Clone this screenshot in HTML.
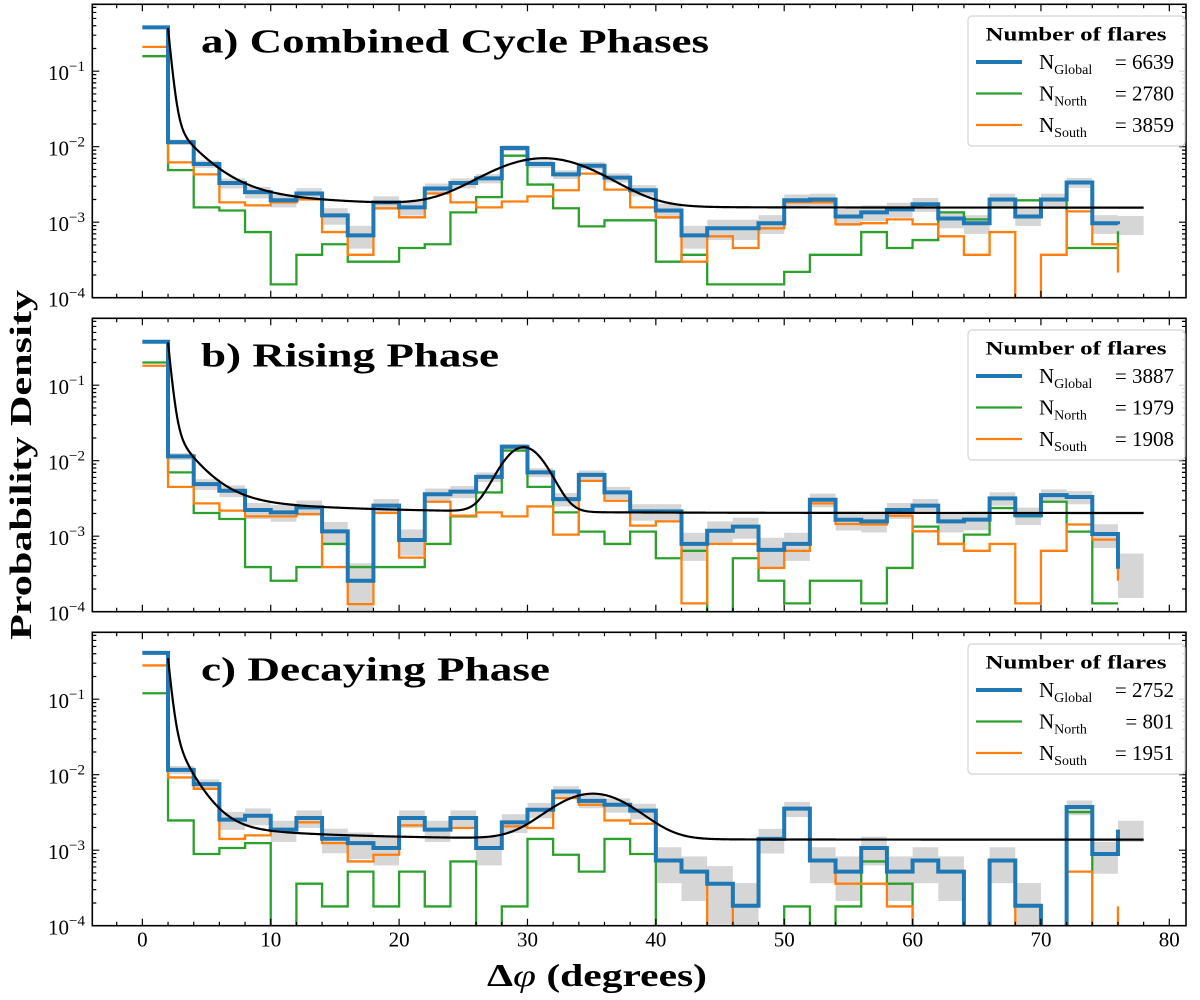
<!DOCTYPE html>
<html><head><meta charset="utf-8"><title>Probability density of flare separations</title>
<style>
html,body{margin:0;padding:0;background:#fff;width:1200px;height:1000px;overflow:hidden;}
svg{display:block;}
text{font-family:"Liberation Serif","DejaVu Serif",serif;fill:#000;}
</style></head>
<body>
<svg id="chart" width="1200" height="1000" viewBox="0 0 1200 1000" xmlns="http://www.w3.org/2000/svg">
<rect x="0" y="0" width="1200" height="1000" fill="#fff"/>
<text x="0" y="0" transform="translate(31,465) rotate(-90)" text-anchor="middle" font-size="31" font-weight="bold" textLength="350" lengthAdjust="spacingAndGlyphs">Probability Density</text>
<text x="597" y="986" text-anchor="middle" font-size="32" font-weight="bold" textLength="220" lengthAdjust="spacingAndGlyphs">Δ<tspan font-style="italic" font-weight="normal">φ</tspan> (degrees)</text>
</svg>
<script>
// ---------- data ----------
const binWidth = 2;
const panelTitles = ["a) Combined Cycle Phases", "b) Rising Phase", "c) Decaying Phase"];
const nGlobal = [6639, 3887, 2752];
const nNorth = [2780, 1979, 801];
const nSouth = [3859, 1908, 1951];

const globalA = [0.38,1.15e-2,5.9e-3,3.3e-3,2.5e-3,1.95e-3,2.4e-3,1.23e-3,6.7e-4,1.83e-3,1.57e-3,2.8e-3,3.3e-3,3.8e-3,9.6e-3,5.9e-3,4.3e-3,5.6e-3,3.9e-3,2.65e-3,1.43e-3,6.7e-4,8.3e-4,8.3e-4,9.7e-4,1.95e-3,2.0e-3,1.19e-3,1.35e-3,1.48e-3,1.73e-3,1.12e-3,9.7e-4,2.0e-3,1.19e-3,2.0e-3,3.35e-3,9.7e-4,9.4e-4];
const southA = [0.21,6.2e-3,4.3e-3,1.83e-3,1.67e-3,1.83e-3,2.0e-3,7.4e-4,3.7e-4,1.53e-3,1.16e-3,2.4e-3,1.83e-3,1.57e-3,1.88e-3,2.2e-3,2.65e-3,4.4e-3,2.7e-3,1.57e-3,1.16e-3,3.0e-4,6.5e-4,4.55e-4,8.3e-4,1.83e-3,1.83e-3,9.4e-4,9.7e-4,1.09e-3,9.4e-4,6.5e-4,3.7e-4,7.4e-4,0,3.7e-4,1.39e-3,5.1e-4,2.15e-4];
const northA = [0.158,4.9e-3,1.57e-3,1.43e-3,7.4e-4,1.5e-4,3.7e-4,5.1e-4,3.0e-4,3.0e-4,4.55e-4,5.1e-4,1.35e-3,2.15e-3,7.6e-3,3.15e-3,1.53e-3,8.8e-4,1.06e-3,1.06e-3,3.0e-4,3.7e-4,1.5e-4,1.5e-4,1.5e-4,2.2e-4,3.7e-4,3.7e-4,7.4e-4,4.55e-4,5.8e-4,1.35e-3,1.09e-3,1.57e-3,1.95e-3,1.95e-3,4.55e-4,4.55e-4,7.6e-4];

const globalB = [0.377,1.14e-2,4.9e-3,4.0e-3,2.22e-3,2.07e-3,2.41e-3,1.16e-3,2.57e-4,2.54e-3,8.9e-4,3.6e-3,3.9e-3,6.1e-3,1.53e-2,7.0e-3,3.1e-3,6.5e-3,3.8e-3,2.13e-3,2.13e-3,7.9e-4,1.18e-3,1.34e-3,6.6e-4,7.9e-4,3.04e-3,1.65e-3,1.57e-3,2.22e-3,2.54e-3,1.57e-3,1.66e-3,3.17e-3,1.9e-3,3.5e-3,3.3e-3,1.07e-3,3.7e-4];
const southB = [0.181,4.5e-3,2.72e-3,2.18e-3,1.83e-3,1.83e-3,1.97e-3,3.9e-4,1.26e-4,2.03e-3,5.2e-4,2.86e-3,1.87e-3,2.07e-3,1.83e-3,2.48e-3,1.05e-3,5.4e-3,2.95e-3,1.38e-3,1.57e-3,1.29e-4,7.9e-4,7.9e-4,3.8e-4,6.4e-4,2.72e-3,1.45e-3,1.43e-3,1.87e-3,1.16e-3,7.9e-4,6.4e-4,7.9e-4,1.29e-4,6.4e-4,1.43e-3,9.0e-4,2.57e-4];
const northB = [0.2,7.0e-3,2.03e-3,1.69e-3,3.9e-4,2.57e-4,3.9e-4,7.9e-4,3.9e-4,3.9e-4,3.9e-4,7.9e-4,1.83e-3,3.8e-3,1.36e-2,4.5e-3,2.07e-3,1.15e-3,7.9e-4,1.15e-3,5.1e-4,6.4e-4,0,5.1e-4,2.57e-4,1.29e-4,2.57e-4,2.57e-4,1.29e-4,3.8e-4,1.34e-3,7.9e-4,1.05e-3,2.36e-3,1.83e-3,2.86e-3,1.15e-3,1.29e-4,1.29e-4];

const globalC = [0.41,1.16e-2,7.5e-3,2.54e-3,2.86e-3,1.87e-3,2.67e-3,1.42e-3,1.24e-3,1.07e-3,2.67e-3,1.87e-3,2.67e-3,1.07e-3,2.34e-3,3.44e-3,6.0e-3,4.5e-3,4.0e-3,3.34e-3,7.3e-4,5.2e-4,3.6e-4,1.84e-4,1.41e-3,3.55e-3,7.3e-4,5.2e-4,1.07e-3,5.2e-4,7.3e-4,5.2e-4,0,7.3e-4,1.84e-4,0,3.73e-3,8.9e-4,1.87e-3];
const southC = [0.28,9.2e-3,6.5e-3,1.41e-3,1.57e-3,1.87e-3,2.34e-3,1.24e-3,7.1e-4,8.7e-4,2.13e-3,1.83e-3,1.97e-3,1.07e-3,2.07e-3,1.97e-3,4.9e-3,4.0e-3,2.48e-3,2.24e-3,7.3e-4,5.2e-4,0,1.84e-4,1.41e-3,3.55e-3,7.3e-4,3.6e-4,3.6e-4,1.8e-4,0,0,0,0,1.84e-4,0,5.2e-4,0,1.8e-4];
const northC = [0.12,2.48e-3,8.9e-4,1.07e-3,1.24e-3,0,3.6e-4,1.8e-4,5.2e-4,1.8e-4,5.2e-4,1.8e-4,7.1e-4,0,1.8e-4,1.41e-3,8.7e-4,5.2e-4,1.41e-3,8.9e-4,0,0,0,0,0,1.8e-4,0,1.8e-4,7.1e-4,3.6e-4,0,0,0,0,0,0,3.2e-3,0,0];

// fit params: [base, a1, t1, a2, t2, a3, t3, gaussAmp, gaussMu, gaussSigma]
const fitA = [1.56e-3, 0.35, 0.24, 2.0e-2, 2.0, 1.3e-3, 10.2, 5.4e-3, 31.3, 3.8];
const fitB = [2.03e-3, 0.34, 0.24, 2.56e-2, 1.7, 1.3e-3, 10, 1.3e-2, 29.7, 1.5];
const fitC = [1.38e-3, 0.31, 0.24, 3.8e-2, 1.28, 0.8e-3, 10, 4.2e-3, 35.1, 2.8];

const xTicks = [0,10,20,30,40,50,60,70,80];
const yTickExps = [-4,-3,-2,-1];

// ---------- layout ----------
const NS = "http://www.w3.org/2000/svg";
const svg = document.getElementById("chart");
const LEFT = 92.3, RIGHT = 1186, XMIN = -3.9, XMAX = 81.3;
const PH = 293.4, DEC = 75.5;
const tops = [4.3, 318.3, 632.3];
const panels = [
  {g: globalA, n: northA, s: southA, fit: fitA},
  {g: globalB, n: northB, s: southB, fit: fitB},
  {g: globalC, n: northC, s: southC, fit: fitC}
];
const BLUE="#1f77b4", GREEN="#2ca02c", ORANGE="#ff7f0e";

function X(v){ return LEFT + (v - XMIN)/(XMAX - XMIN)*(RIGHT-LEFT); }
function mkY(top){ const bot = top+PH; return v => v>0 ? bot - (Math.log10(v)+4)*DEC : bot+20; }
function el(tag, attrs, parent){
  const e = document.createElementNS(NS, tag);
  for (const k in attrs) e.setAttribute(k, attrs[k]);
  (parent||svg).appendChild(e);
  return e;
}
function stepPath(vals, Y){
  let d = "M"+X(0).toFixed(2)+","+Y(vals[0]).toFixed(2);
  for (let i=0;i<vals.length-1;i++){
    d += " H"+X((i+1)*binWidth).toFixed(2);
    d += " V"+Y(vals[i+1]).toFixed(2);
  }
  return d;
}
function fitVal(p, x){
  return p[0] + p[1]*Math.exp(-(x-2)/p[2]) + p[3]*Math.exp(-(x-2)/p[4]) + p[5]*Math.exp(-(x-2)/p[6])
    + p[7]*Math.exp(-Math.pow(x-p[8],2)/(2*p[9]*p[9]));
}

panels.forEach((P, k) => {
  const top = tops[k], bot = top+PH, Y = mkY(top);
  const grp = el("g", {});
  
  
  const cp = el("clipPath", {id:"clip"+k}, grp);
  el("rect", {x:LEFT, y:top, width:RIGHT-LEFT, height:PH}, cp);
  const plot = el("g", {"clip-path":"url(#clip"+k+")"}, grp);

  const band = el("g", {fill:"#c8c8c8", "fill-opacity":"0.75"}, plot);
  
  
  P.g.forEach((v,i) => {
    if (!(v>0)) return;
    const r = 1/Math.sqrt(v*nGlobal[k]*binWidth);
    const hi = v*(1+r), lo = Math.max(v*(1-r), 5e-5);
    const rc = el("rect", {x:X(i*binWidth), y:Y(hi), width:X((i+1)*binWidth)-X(i*binWidth), height:Math.max(Y(lo)-Y(hi),0)}, band);
    
    
  });

  const ng = el("path", {d:stepPath(P.n, Y), fill:"none", stroke:GREEN, "stroke-width":2.3}, plot);
  
  
  const so = el("path", {d:stepPath(P.s, Y), fill:"none", stroke:ORANGE, "stroke-width":2.3}, plot);
  
  
  const gl = el("path", {d:stepPath(P.g, Y), fill:"none", stroke:BLUE, "stroke-width":4}, plot);
  
  

  let fd = "";
  for (let x=2.0; x<=78.001; x+=0.1){
    fd += (fd?" L":"M") + X(x).toFixed(2)+","+Y(fitVal(P.fit,x)).toFixed(2);
  }
  const fl = el("path", {d:fd, fill:"none", stroke:"#000", "stroke-width":2.2}, plot);
  
  

  const fr = el("rect", {x:LEFT, y:top, width:RIGHT-LEFT, height:PH, fill:"none", stroke:"#000", "stroke-width":1.6}, grp);
  
  

  let td = "";
  for (let v=-2; v<=80; v+=2){
    const x = X(v), L = (v%10===0)?7:4;
    td += `M${x},${bot} v${-L} M${x},${top} v${L} `;
  }
  for (let e=-4; e<=0; e++){
    for (let m=1; m<=9; m++){
      const v = m*Math.pow(10,e), y = Y(v);
      if (y < top-0.5 || y > bot+0.5) continue;
      const L = m===1?7:4;
      td += `M${LEFT},${y} h${L} M${RIGHT},${y} h${-L} `;
    }
  }
  const tk = el("path", {d:td, stroke:"#000", "stroke-width":1.2, fill:"none"}, grp);
  
  

  yTickExps.forEach(e => {
    const t = el("text", {x:85, y:Y(Math.pow(10,e))+9, "text-anchor":"end", "font-size":21}, grp);
    
    
    t.textContent = "10";
    const sp = el("tspan", {dy:-9, "font-size":15}, t);
    sp.textContent = "\u2212" + Math.abs(e);
  });
  if (k===2){
    xTicks.forEach(v => {
      const t = el("text", {x:X(v), y:bot+21, "text-anchor":"middle", "font-size":21}, grp);
      
      
      t.textContent = String(v);
    });
  }

  const tl = el("text", {x:201, y:top+48, "font-size":34, "font-weight":"bold"}, grp);
  
  
  tl.textContent = panelTitles[k];
  tl.setAttribute("textLength", [508,298,349][k]);
  tl.setAttribute("lengthAdjust", "spacingAndGlyphs");

  const lg = el("g", {}, grp);
  
  
  el("rect", {x:968, y:top+11.7, width:217, height:130, rx:4, fill:"#fff", "fill-opacity":0.85, stroke:"#d4d4d4", "stroke-width":1.2}, lg);
  const lt = el("text", {x:1076, y:top+36, "text-anchor":"middle", "font-size":19, "font-weight":"bold", textLength:181, lengthAdjust:"spacingAndGlyphs"}, lg);
  
  
  lt.textContent = "Number of flares";
  const entries = [["Global", nGlobal[k], BLUE, 4], ["North", nNorth[k], GREEN, 2.3], ["South", nSouth[k], ORANGE, 2.3]];
  entries.forEach((en, j) => {
    const ly = top + 57.7 + j*31.5;
    const ln = el("line", {x1:976, x2:1022, y1:ly, y2:ly, stroke:en[2], "stroke-width":en[3]}, lg);
    
    
    const tn = el("text", {x:1039, y:ly+7, "font-size":21}, lg);
    
    
    tn.textContent = "N";
    const sb = el("tspan", {dy:5, "font-size":14}, tn);
    sb.textContent = en[0];
    const tv = el("text", {x:1174, y:ly+7, "text-anchor":"end", "font-size":21}, lg);
    
    
    tv.textContent = "= " + en[1];
  });
});
</script>
</body></html>
